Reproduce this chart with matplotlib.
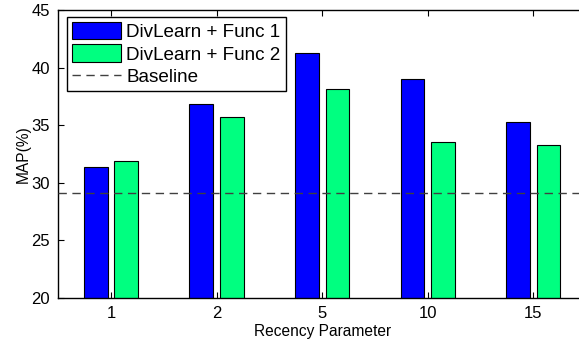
import matplotlib
matplotlib.use("Agg")
import matplotlib.pyplot as plt
import numpy as np

plt.rcParams['font.family'] = ['Liberation Sans', 'DejaVu Sans']

categories = ['1', '2', '5', '10', '15']
func1 = [31.4, 36.8, 41.3, 39.0, 35.25]
func2 = [31.9, 35.7, 38.1, 33.5, 33.3]
baseline = 29.1

fig = plt.figure(figsize=(5.79, 3.41), dpi=100)
ax = fig.add_axes([58.2/579, 1-298/341, (586.1-58.2)/579, (298-10)/341])

x = np.arange(1, len(categories)+1)
w = 0.225
off = 0.145
b1 = ax.bar(x-off, func1, w, bottom=0, color='#0000FF', edgecolor='black', linewidth=0.8,
            label='DivLearn + Func 1', zorder=2)
b2 = ax.bar(x+off, func2, w, bottom=0, color='#00FF80', edgecolor='black', linewidth=0.8,
            label='DivLearn + Func 2', zorder=2)
bl = ax.axhline(baseline, color='#404040', linestyle=(0, (6, 4)), linewidth=1.0,
                label='Baseline', zorder=3)

ax.set_xlim(0.5, 5.5)
ax.set_ylim(20, 45)
ax.set_xticks(x)
ax.set_xticklabels(categories)
ax.set_yticks([20, 25, 30, 35, 40, 45])
ax.tick_params(direction='in', top=True, right=True, labelsize=12, length=4, width=0.8, pad=6)
for s in ax.spines.values():
    s.set_linewidth(1.0)
ax.set_xlabel('Recency Parameter', fontsize=11.2, labelpad=2)
ax.set_ylabel('MAP(%)', fontsize=11.2, labelpad=0)

leg = ax.legend([b1, b2, bl], ['DivLearn + Func 1', 'DivLearn + Func 2', 'Baseline'],
                loc='upper left', bbox_to_anchor=(8.8/528, 1-7/288), fontsize=13.6,
                fancybox=False, framealpha=1, edgecolor='black', borderpad=0.25,
                handlelength=2.6, handleheight=1.05, labelspacing=0.18, handletextpad=0.3,
                borderaxespad=0)
leg.get_frame().set_linewidth(1.0)

fig.savefig('out.png', dpi=100)
